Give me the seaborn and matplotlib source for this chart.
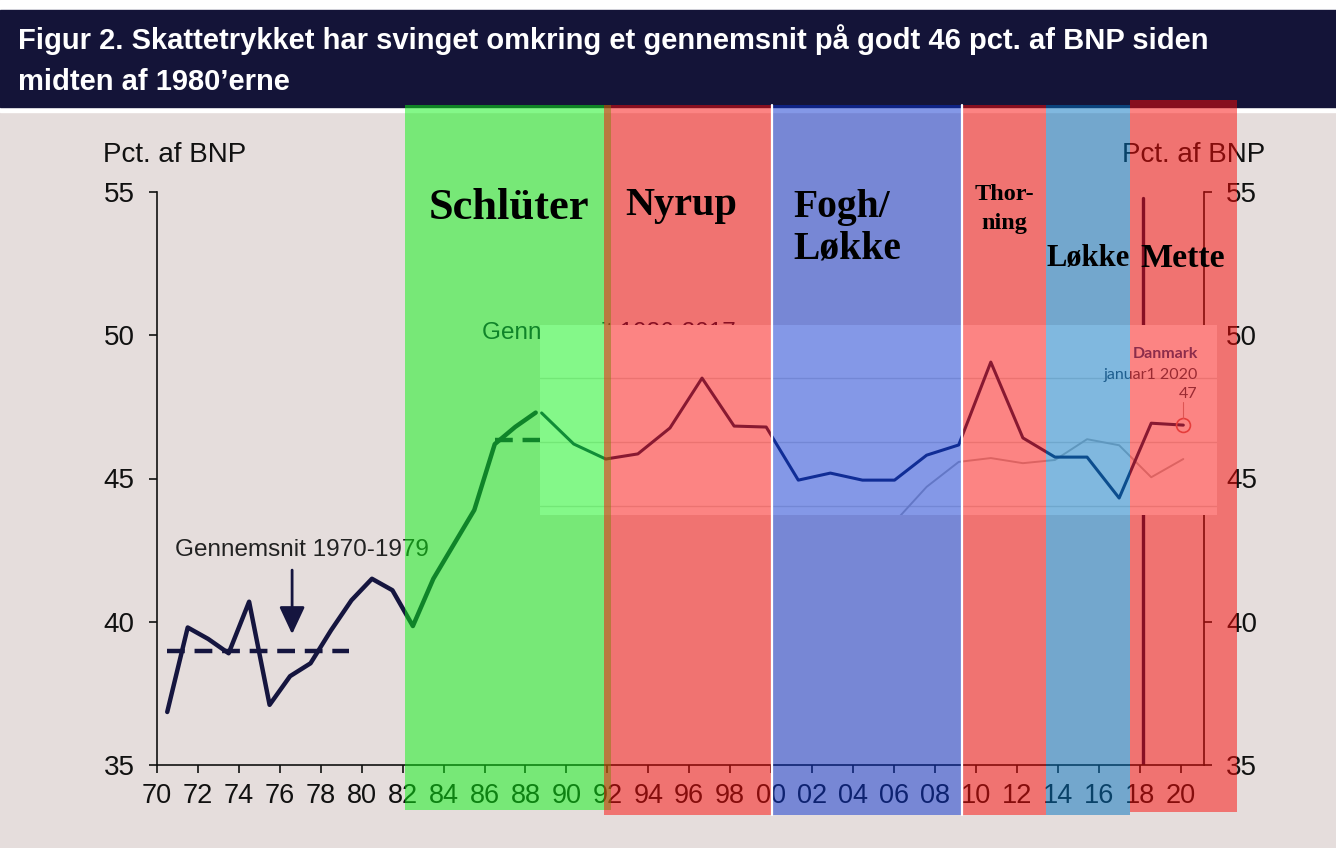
## Skattetryk i pct. af BNP, 1970-2020, med regeringsperioder lagt ovenpå
import numpy as np
import matplotlib
matplotlib.use("Agg")
import matplotlib.pyplot as plt
from matplotlib.patches import Rectangle
import seaborn as sns

## Data
years = np.arange(1970, 1989)
tax = [36.85, 39.8, 39.4, 38.9, 40.7, 37.1, 38.1, 38.55, 39.7, 40.75,
       41.5, 41.1, 39.85, 41.5, 42.7, 43.9, 46.2, 46.8, 47.3]
avg_7079 = 38.98
avg_8617 = 46.35

# indsat figur (Danmark, 2000-2020, egen skala)
dk_years = np.arange(2000, 2021)
dk_tax = [46.91, 45.94, 45.47, 45.63, 46.44, 48.0, 46.5, 46.47, 44.81, 45.03,
          44.81, 44.81, 45.59, 45.91, 48.5, 46.13, 45.53, 45.53, 44.25, 46.59, 46.53]
grey_years = np.arange(2011, 2021)
grey_tax = [43.5, 44.6, 45.38, 45.5, 45.34, 45.44, 46.09, 45.9, 44.9, 45.47]

gov_names = ["Schlüter", "Nyrup", "Fogh/\nLøkke", "Thor-\nning", "Løkke", "Mette"]
gov_start = [1982.1, 1991.85, 2000.05, 2009.35, 2013.45, 2017.55]
gov_end = [1992.2, 2000.0, 2009.3, 2013.45, 2017.55, 2022.75]
gov_colors = ["#0bf314", "#fb0b08", "#0b33d0", "#fb0b08", "#0373c0", "#fb0b08"]

xticks = np.arange(1970, 2021, 2)
xlabels = [f"{y % 100:02d}" for y in xticks]

navy = "#15153f"
bg = "#e5dddc"

sns.set_style("ticks")
plt.rcParams["font.family"] = ["Liberation Sans", "DejaVu Sans"]

W, H = 1336, 848
fig = plt.figure(figsize=(W / 100, H / 100), dpi=100, facecolor=bg)

def fx(px):  # pixel -> figure fraction
    return px / W

def fy(py):
    return (H - py) / H

# banner
fig.patches.append(Rectangle((0, fy(112)), 1, fy(0) - fy(112), transform=fig.transFigure,
                             color="white", zorder=-5))
fig.patches.append(Rectangle((0, fy(107)), 1, fy(10) - fy(107), transform=fig.transFigure,
                             color="#141438", zorder=-4))
fig.text(fx(18), fy(40), "Figur 2. Skattetrykket har svinget omkring et gennemsnit på godt 46 pct. af BNP siden",
         color="white", fontsize=21, fontweight="bold", va="center", ha="left", zorder=6)
fig.text(fx(18), fy(82), "midten af 1980\u2019erne",
         color="white", fontsize=21, fontweight="bold", va="center", ha="left", zorder=6)

## Hovedfigur
ax = fig.add_axes([fx(157), fy(765), fx(1204) - fx(157), fy(192) - fy(765)], zorder=1)
ax.set_facecolor("none")
xmax = 1970 + (1204 - 157) / 20.47
ax.set_xlim(1970, xmax)
ax.set_ylim(35, 55)

sns.lineplot(x=years + 0.5, y=tax, ax=ax, color=navy, lw=3.2)
ax.plot([1970.5, 1979.4], [avg_7079, avg_7079], color=navy, lw=3.2, ls=(0, (4, 2.2)))
ax.plot([1986.5, 2017.5], [avg_8617, avg_8617], color=navy, lw=3.2, ls=(0, (4, 2.2)))
ax.axvline(2018.17, ymin=0, ymax=0.99, color=navy, lw=2.4)

ax.text(1970.9, 42.5, "Gennemsnit 1970-1979", fontsize=17.5, color="#222222", va="center")
ax.text(1985.9, 50.08, "Gennemsnit 1986-2017", fontsize=17.5, color=navy, va="center")
ax.annotate("", xy=(1976.6, 39.47), xytext=(1976.6, 41.9),
            arrowprops=dict(arrowstyle="-|>,head_length=0.6,head_width=0.28",
                            color=navy, lw=2, mutation_scale=28))

ax.set_xticks(xticks)
ax.set_xticklabels(xlabels)
ax.set_yticks([35, 40, 45, 50, 55])
ax.tick_params(axis="x", labelsize=19.5, length=6, width=1.2, pad=7, colors="#111111")
ax.tick_params(axis="y", labelsize=20, length=6, width=1.2, pad=10, colors="#111111",
               left=True, right=True, labelleft=True, labelright=True)
ax.spines["top"].set_visible(False)
for s in ["left", "right", "bottom"]:
    ax.spines[s].set_color("#111111")
    ax.spines[s].set_linewidth(1.2)

fig.text(fx(103), fy(155), "Pct. af BNP", fontsize=20, color="#111111", va="center", ha="left", zorder=3)
fig.text(fx(1265), fy(155), "Pct. af BNP", fontsize=20, color="#111111", va="center", ha="right", zorder=3)

## Indsat figur
ax_in = fig.add_axes([fx(540), fy(515), fx(1217) - fx(540), fy(325) - fy(515)], zorder=2)
ax_in.set_facecolor("white")
ax_in.set_xlim(1999.95, 2021.05)
ax_in.set_ylim(43.72, 49.66)
for g in [44, 46, 48]:
    ax_in.axhline(g, color="#dcdcdc", lw=1, zorder=0)
sns.lineplot(x=grey_years, y=grey_tax, ax=ax_in, color="#bdbdbd", lw=1.4)
sns.lineplot(x=dk_years, y=dk_tax, ax=ax_in, color="#16285c", lw=2.2)
ax_in.plot(dk_years[-1], dk_tax[-1], "o", ms=10, mfc="none", mec="#d07070", mew=1.2)
ax_in.plot([2020, 2020], [46.75, 47.25], color="#c0a0a0", lw=0.8)
ax_in.text(2020.45, 48.75, "Danmark", ha="right", va="center", fontsize=11.5,
           fontweight="bold", color="#1f4f8f", family=["Lato", "DejaVu Sans"])
ax_in.text(2020.45, 48.09, "januar1 2020", ha="right", va="center", fontsize=11.5,
           color="#3a4a5e", family=["Lato", "DejaVu Sans"])
ax_in.text(2020.45, 47.5, "47", ha="right", va="center", fontsize=11.5,
           color="#3a4a5e", family=["Lato", "DejaVu Sans"])
ax_in.set_xticks([])
ax_in.set_yticks([])
sns.despine(ax=ax_in, left=True, bottom=True)

## Regeringsperioder ovenpå (y i pixelrækker)
ax_sp = fig.add_axes([fx(157), fy(818), fx(1204) - fx(157), fy(100) - fy(818)], zorder=5)
ax_sp.set_facecolor("none")
ax_sp.set_xlim(1970, xmax)
ax_sp.set_ylim(818, 100)
ax_sp.axis("off")
span_top = [105, 105, 105, 105, 105, 100]
span_bot = [810, 815, 815, 815, 815, 812]
for x0, x1, c, t, b in zip(gov_start, gov_end, gov_colors, span_top, span_bot):
    p = ax_sp.fill_between([x0, x1], b, t, color=c, alpha=0.5, lw=0)
    p.set_clip_on(False)
for xl in [2000.02, 2009.32]:
    ax_sp.plot([xl, xl], [815, 105], color="white", lw=1.6, clip_on=False)

lab_x = [1987.2, 1995.6, 2001.07, 2011.4, 2015.5, 2020.1]
lab_y = [208, 205, 228, 209, 258, 258]
lab_size = [32, 29, 28.5, 17.5, 22, 24.5]
lab_ha = ["center", "center", "left", "center", "center", "center"]
lab_ls = [1.15, 1.15, 1.15, 1.45, 1.15, 1.15]
for name, x, y, s, ha, ls in zip(gov_names, lab_x, lab_y, lab_size, lab_ha, lab_ls):
    ax_sp.text(x, y, name, fontsize=s, fontweight="bold", ha=ha, va="center",
               family=["Liberation Serif", "DejaVu Serif"], linespacing=ls,
               color="black", clip_on=False)

plt.savefig("out.png", dpi=100, facecolor=fig.get_facecolor())
